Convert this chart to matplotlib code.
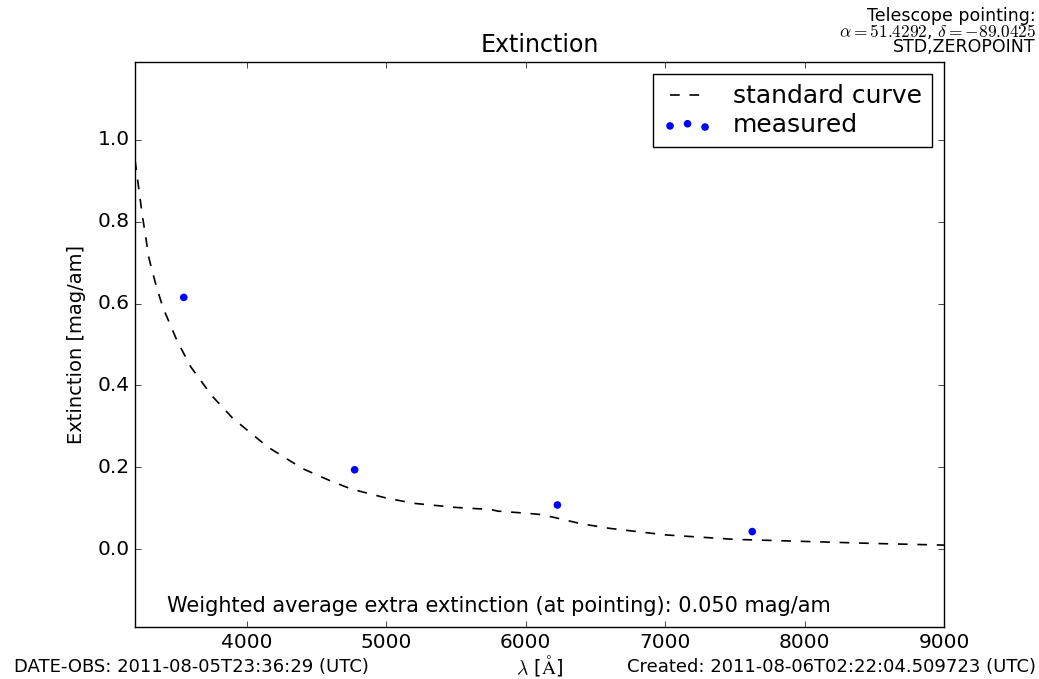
import matplotlib
matplotlib.use("Agg")
import matplotlib.pyplot as plt

plt.style.use("classic")

# standard extinction curve
curve_wl = [3200, 3250, 3300, 3350, 3400, 3500, 3600, 3750, 3900, 4150, 4400, 4600,
            4750, 5000, 5200, 5500, 5750, 5800, 6000, 6100, 6200, 6400, 6600, 7000,
            7500, 8000, 8500, 9000]
curve_ext = [0.95, 0.82, 0.71, 0.645, 0.59, 0.51, 0.445, 0.375, 0.32, 0.25, 0.197, 0.167,
             0.147, 0.125, 0.112, 0.102, 0.097, 0.093, 0.088, 0.085, 0.078, 0.062, 0.051, 0.035,
             0.024, 0.019, 0.014, 0.010]

# measured values
meas_wl = [3549, 4774, 6228, 7625]
meas_ext = [0.615, 0.194, 0.108, 0.043]

xticks = [4000, 5000, 6000, 7000, 8000, 9000]
yticks = [0.0, 0.2, 0.4, 0.6, 0.8, 1.0]

fig = plt.figure(figsize=(10.39, 6.79), dpi=100, facecolor="white")
ax = fig.add_axes([0.130, 0.0766, 0.7786, 0.8321])

ax.plot(curve_wl, curve_ext, color="k", linestyle=(0, (7, 7)), lw=1.2, label="standard curve")
ax.scatter(meas_wl, meas_ext, s=30, c="blue", edgecolors="none", label="measured")

ax.set_xlim(3200, 9000)
ax.set_ylim(-0.19, 1.19)
ax.set_xticks(xticks)
ax.set_yticks(yticks)
ax.tick_params(labelsize=14.5)
ax.set_title("Extinction", fontsize=17, pad=7)
ax.set_ylabel("Extinction [mag/am]", fontsize=14, labelpad=8)
ax.set_xlabel(r"$\lambda$ [$\mathrm{\AA}$]", fontsize=14, labelpad=1)

leg = ax.legend(loc="upper right", fontsize=18, numpoints=2, scatterpoints=3,
                borderaxespad=0.5, handlelength=2.0, borderpad=0.4, labelspacing=0.2)

ax.text(0.45, 0.037, "Weighted average extra extinction (at pointing): 0.050 mag/am",
        transform=ax.transAxes, ha="center", va="center", fontsize=15)

fig.text(0.997, 0.99, "Telescope pointing:\n" + r"$\alpha = 51.4292$, $\delta = -89.0425$" + "\nSTD,ZEROPOINT",
         ha="right", va="top", fontsize=12.5, linespacing=0.8, multialignment="right")
fig.text(0.013, 0.005, "DATE-OBS: 2011-08-05T23:36:29 (UTC)", ha="left", va="bottom", fontsize=13)
fig.text(0.997, 0.005, "Created: 2011-08-06T02:22:04.509723 (UTC)", ha="right", va="bottom", fontsize=13)

fig.savefig("out.png", dpi=100, facecolor="white")
